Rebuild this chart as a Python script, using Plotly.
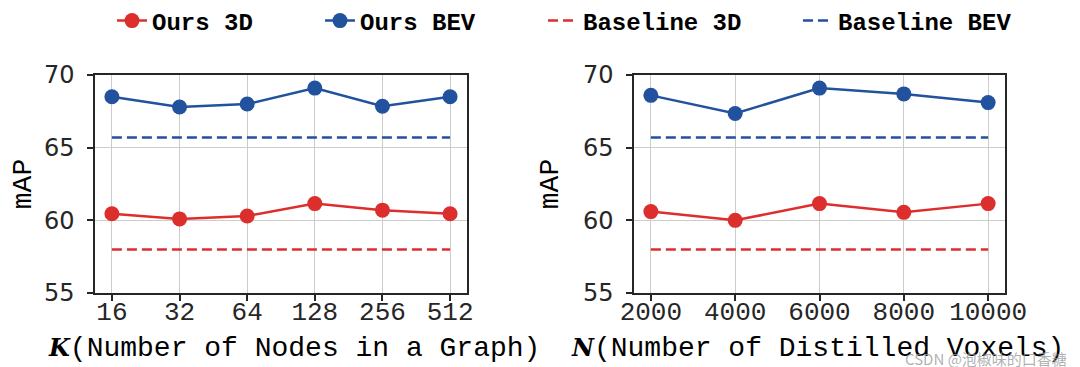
import plotly.graph_objects as go
from plotly.subplots import make_subplots

# ---- data ----
k_labels = ["16", "32", "64", "128", "256", "512"]
k_ours_3d = [60.45, 60.1, 60.3, 61.15, 60.7, 60.45]
k_ours_bev = [68.5, 67.8, 68.0, 69.1, 67.85, 68.5]
k_base_3d = [58.0] * 6
k_base_bev = [65.7] * 6

n_values = [2000, 4000, 6000, 8000, 10000]
n_ours_3d = [60.6, 60.0, 61.15, 60.55, 61.15]
n_ours_bev = [68.6, 67.35, 69.1, 68.7, 68.1]
n_base_3d = [58.0] * 5
n_base_bev = [65.7] * 5

RED = "#dc2f2d"
BLUE = "#22529e"
MONO = "Liberation Mono"
SANS = "DejaVu Sans"
TXT = "#262626"
DASH = "10px,5px"

fig = make_subplots(rows=1, cols=2)

def add_set(x, o3, ob, b3, bb, col, show):
    fig.add_trace(go.Scatter(x=x, y=o3, mode="lines+markers", name="Ours 3D",
                             line=dict(color=RED, width=2.5),
                             marker=dict(size=15, color=RED),
                             showlegend=show, legend="legend"), row=1, col=col)
    fig.add_trace(go.Scatter(x=x, y=ob, mode="lines+markers", name="Ours BEV",
                             line=dict(color=BLUE, width=2.5),
                             marker=dict(size=15, color=BLUE),
                             showlegend=show, legend="legend2"), row=1, col=col)
    fig.add_trace(go.Scatter(x=x, y=b3, mode="lines", name="Baseline 3D",
                             line=dict(color=RED, width=2.5, dash=DASH),
                             showlegend=show, legend="legend3"), row=1, col=col)
    fig.add_trace(go.Scatter(x=x, y=bb, mode="lines", name="Baseline BEV",
                             line=dict(color=BLUE, width=2.5, dash=DASH),
                             showlegend=show, legend="legend4"), row=1, col=col)

add_set(k_labels, k_ours_3d, k_ours_bev, k_base_3d, k_base_bev, 1, True)
add_set(n_values, n_ours_3d, n_ours_bev, n_base_3d, n_base_bev, 2, False)

W, H = 1080, 367
def px(v):
    return v / W
def py(v):
    return 1 - v / H

axis_common = dict(showline=True, mirror=True, linecolor=TXT, linewidth=1.5,
                   showgrid=True, gridcolor="#cccccc", gridwidth=1.3,
                   ticks="outside", ticklen=6, tickwidth=1.5, tickcolor=TXT,
                   zeroline=False)

fig.update_xaxes(domain=[px(87), px(459)], type="category", range=[-0.25, 5.25],
                 tickfont=dict(family=MONO, size=26, color=TXT), ticklabelstandoff=-12,
                 row=1, col=1, **axis_common)
fig.update_xaxes(domain=[px(626), px(997)], range=[1600, 10400],
                 tickvals=n_values, ticktext=[str(v) for v in n_values],
                 tickfont=dict(family=MONO, size=26, color=TXT), ticklabelstandoff=-12,
                 row=1, col=2, **axis_common)
for c in (1, 2):
    fig.update_yaxes(domain=[py(285), py(67)], range=[55, 70], tickvals=[55, 60, 65, 70],
                     tickfont=dict(family=SANS, size=24, color=TXT), ticklabelstandoff=8,
                     title=dict(text="mAP", font=dict(family=MONO, size=28, color="#000000"),
                                standoff=16),
                     row=1, col=c, **axis_common)

KSPAN = "<span style='font-family:DejaVu Serif;font-size:24px'><b><i>{}</i></b></span>"
annots = [
    dict(text=KSPAN.format("K") + "(Number of Nodes in a Graph)",
         x=px(286), y=py(340), font=dict(family=MONO, size=28, color="#000000")),
    dict(text=KSPAN.format("N") + "(Number of Distilled Voxels)",
         x=px(809), y=py(340), font=dict(family=MONO, size=28, color="#000000")),
    dict(text="CSDN @泡椒味的口香糖", x=px(978), y=py(350),
         font=dict(family="Noto Sans CJK SC", size=15, color="rgba(150,150,150,0.75)")),
]
for a in annots:
    fig.add_annotation(xref="paper", yref="paper", xanchor="center", yanchor="middle",
                       showarrow=False, **a)

leg_font = dict(family=MONO, size=24, color="#000000", weight="bold")
def leg(x):
    return dict(orientation="h", x=px(x), xanchor="left", y=py(13), yanchor="middle",
                font=leg_font, bgcolor="rgba(0,0,0,0)")

fig.update_layout(
    width=W, height=H,
    margin=dict(l=0, r=0, t=0, b=0, autoexpand=False),
    paper_bgcolor="white", plot_bgcolor="white",
    legend=leg(104), legend2=leg(312), legend3=leg(535), legend4=leg(790),
)

fig.write_html("out.html")
